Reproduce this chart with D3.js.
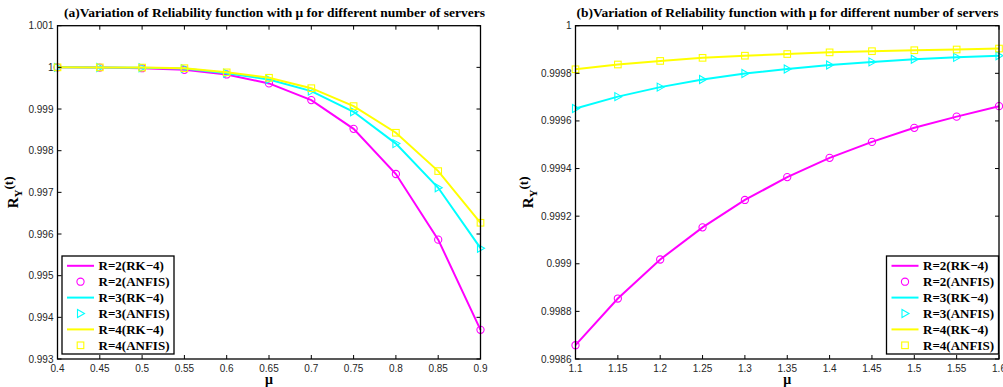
<!DOCTYPE html>
<html>
<head>
<meta charset="utf-8">
<script src="https://cdn.jsdelivr.net/npm/d3@7"></script>
<style>
  body { margin: 0; background: #fff; }
  svg { display: block; }
  .tick-label { font-family: "Liberation Sans", Arial, sans-serif; font-size: 10px; fill: #262626; }
  .title, .legend-text, .axis-title { font-family: "Liberation Serif", "Times New Roman", serif; font-weight: bold; }
</style>
</head>
<body>
<svg width="1003" height="387"></svg>
<script>
// panel (a)
const muA = [0.4, 0.45, 0.5, 0.55, 0.6, 0.65, 0.7, 0.75, 0.8, 0.85, 0.9];
const r2A = [1.0, 0.999995, 0.99998, 0.99994, 0.99983, 0.999615, 0.999214, 0.998524, 0.99744, 0.995865, 0.99370];
const r3A = [1.0, 0.999998, 0.99999, 0.99997, 0.99986, 0.99971, 0.99943, 0.998933, 0.99817, 0.99711, 0.99566];
const r4A = [1.0, 0.999999, 0.999995, 0.99998, 0.99988, 0.99975, 0.99950, 0.99907, 0.99843, 0.99751, 0.99627];
const xTicksA = [0.4, 0.45, 0.5, 0.55, 0.6, 0.65, 0.7, 0.75, 0.8, 0.85, 0.9];
const yTicksA = [0.993, 0.994, 0.995, 0.996, 0.997, 0.998, 0.999, 1, 1.001];

// panel (b)
const muB = [1.1, 1.15, 1.2, 1.25, 1.3, 1.35, 1.4, 1.45, 1.5, 1.55, 1.6];
const r2B = [0.998658, 0.998854, 0.999018, 0.999153, 0.999268, 0.999364, 0.999445, 0.999512, 0.999571, 0.999618, 0.999662];
const r3B = [0.999652, 0.999702, 0.999742, 0.999774, 0.999799, 0.999818, 0.999835, 0.999848, 0.999859, 0.999867, 0.999874];
const r4B = [0.999817, 0.999837, 0.999852, 0.999865, 0.999874, 0.999881, 0.999888, 0.999893, 0.999897, 0.999900, 0.999904];
const xTicksB = [1.1, 1.15, 1.2, 1.25, 1.3, 1.35, 1.4, 1.45, 1.5, 1.55, 1.6];
const yTicksB = [0.9986, 0.9988, 0.999, 0.9992, 0.9994, 0.9996, 0.9998, 1];

const legendNames = ['R=2(RK\u22124)', 'R=2(ANFIS)', 'R=3(RK\u22124)', 'R=3(ANFIS)', 'R=4(RK\u22124)', 'R=4(ANFIS)'];
const colors = ['#ff00ff', '#00ffff', '#ffff00'];
const markers = ['circle', 'triangle', 'square'];

const svg = d3.select('svg');

function drawMarker(g, type, color, cx, cy) {
  if (type === 'circle') {
    g.append('circle').attr('cx', cx).attr('cy', cy).attr('r', 3.6)
      .attr('fill', 'none').attr('stroke', color).attr('stroke-width', 1.1);
  } else if (type === 'triangle') {
    g.append('path')
      .attr('d', `M${cx - 3},${cy - 4}L${cx + 4},${cy}L${cx - 3},${cy + 4}Z`)
      .attr('fill', 'none').attr('stroke', color).attr('stroke-width', 1.1);
  } else {
    g.append('rect').attr('x', cx - 3.3).attr('y', cy - 3.3).attr('width', 6.6).attr('height', 6.6)
      .attr('fill', 'none').attr('stroke', color).attr('stroke-width', 1.1);
  }
}

function panel(opt) {
  const x = d3.scaleLinear().domain(opt.xDomain).range([opt.left, opt.right]);
  const y = d3.scaleLinear().domain(opt.yDomain).range([opt.bottom, opt.top]);
  const g = svg.append('g');

  // series
  opt.series.forEach((s, i) => {
    const line = d3.line().x((d, j) => x(opt.mu[j])).y(d => y(d));
    g.append('path').datum(s).attr('d', line)
      .attr('fill', 'none').attr('stroke', colors[i]).attr('stroke-width', 2);
    s.forEach((v, j) => drawMarker(g, markers[i], colors[i], x(opt.mu[j]), y(v)));
  });

  // box
  g.append('rect').attr('x', opt.left).attr('y', opt.top)
    .attr('width', opt.right - opt.left).attr('height', opt.bottom - opt.top)
    .attr('fill', 'none').attr('stroke', '#000').attr('stroke-width', 1.3);

  // ticks (inward, mirrored)
  const tl = 4;
  opt.xTicks.forEach(t => {
    const px = x(t);
    g.append('line').attr('x1', px).attr('x2', px).attr('y1', opt.bottom).attr('y2', opt.bottom - tl).attr('stroke', '#000');
    g.append('line').attr('x1', px).attr('x2', px).attr('y1', opt.top).attr('y2', opt.top + tl).attr('stroke', '#000');
    g.append('text').attr('class', 'tick-label').attr('x', px).attr('y', opt.bottom + 13)
      .attr('text-anchor', 'middle').text(d3.format('~g')(t));
  });
  opt.yTicks.forEach(t => {
    const py = y(t);
    g.append('line').attr('x1', opt.left).attr('x2', opt.left + tl).attr('y1', py).attr('y2', py).attr('stroke', '#000');
    g.append('line').attr('x1', opt.right).attr('x2', opt.right - tl).attr('y1', py).attr('y2', py).attr('stroke', '#000');
    g.append('text').attr('class', 'tick-label').attr('x', opt.left - 4).attr('y', py + 3.5)
      .attr('text-anchor', 'end').text(d3.format('~g')(t));
  });

  // title
  g.append('text').attr('class', 'title').attr('x', opt.titleX).attr('y', 17)
    .attr('text-anchor', 'middle').attr('font-size', 13.5).text(opt.title);

  // x label
  g.append('text').attr('class', 'axis-title').attr('x', (opt.left + opt.right) / 2).attr('y', 384)
    .attr('text-anchor', 'middle').attr('font-size', 14).attr('font-weight', 'normal').text('\u03bc');

  // y label
  const yl = g.append('text').attr('class', 'axis-title')
    .attr('transform', `translate(${opt.yLabelX},${(opt.top + opt.bottom) / 2}) rotate(-90)`)
    .attr('text-anchor', 'middle').attr('font-size', 15);
  yl.append('tspan').text('R');
  yl.append('tspan').attr('font-size', 11).attr('dy', 4).text('Y');
  yl.append('tspan').attr('font-size', 13).attr('dy', -9).text('(t)');

  // legend
  const lg = g.append('g').attr('transform', `translate(${opt.legendX},256)`);
  lg.append('rect').attr('width', 112).attr('height', 98)
    .attr('fill', '#fff').attr('stroke', '#000').attr('stroke-width', 1.3);
  legendNames.forEach((name, k) => {
    const ly = 9.8 + k * 15.9;
    const ci = Math.floor(k / 2);
    if (k % 2 === 0) {
      lg.append('line').attr('x1', 5).attr('x2', 32).attr('y1', ly).attr('y2', ly)
        .attr('stroke', colors[ci]).attr('stroke-width', 2);
    } else {
      drawMarker(lg, markers[ci], colors[ci], 18.5, ly);
    }
    lg.append('text').attr('class', 'legend-text').attr('x', 36.5).attr('y', ly + 4.5)
      .attr('font-size', 13).text(name);
  });
}

panel({
  left: 57.5, right: 480.5, top: 25.7, bottom: 359,
  xDomain: [0.4, 0.9], yDomain: [0.993, 1.001],
  mu: muA, series: [r2A, r3A, r4A], xTicks: xTicksA, yTicks: yTicksA,
  title: '(a)Variation of Reliability function with \u03bc for different number of servers',
  titleX: 274.5, yLabelX: 18, legendX: 62
});

panel({
  left: 575.5, right: 999, top: 25.7, bottom: 359,
  xDomain: [1.1, 1.6], yDomain: [0.9986, 1],
  mu: muB, series: [r2B, r3B, r4B], xTicks: xTicksB, yTicks: yTicksB,
  title: '(b)Variation of Reliability function with \u03bc for different number of servers',
  titleX: 787.5, yLabelX: 533, legendX: 886.5
});
</script>
</body>
</html>
